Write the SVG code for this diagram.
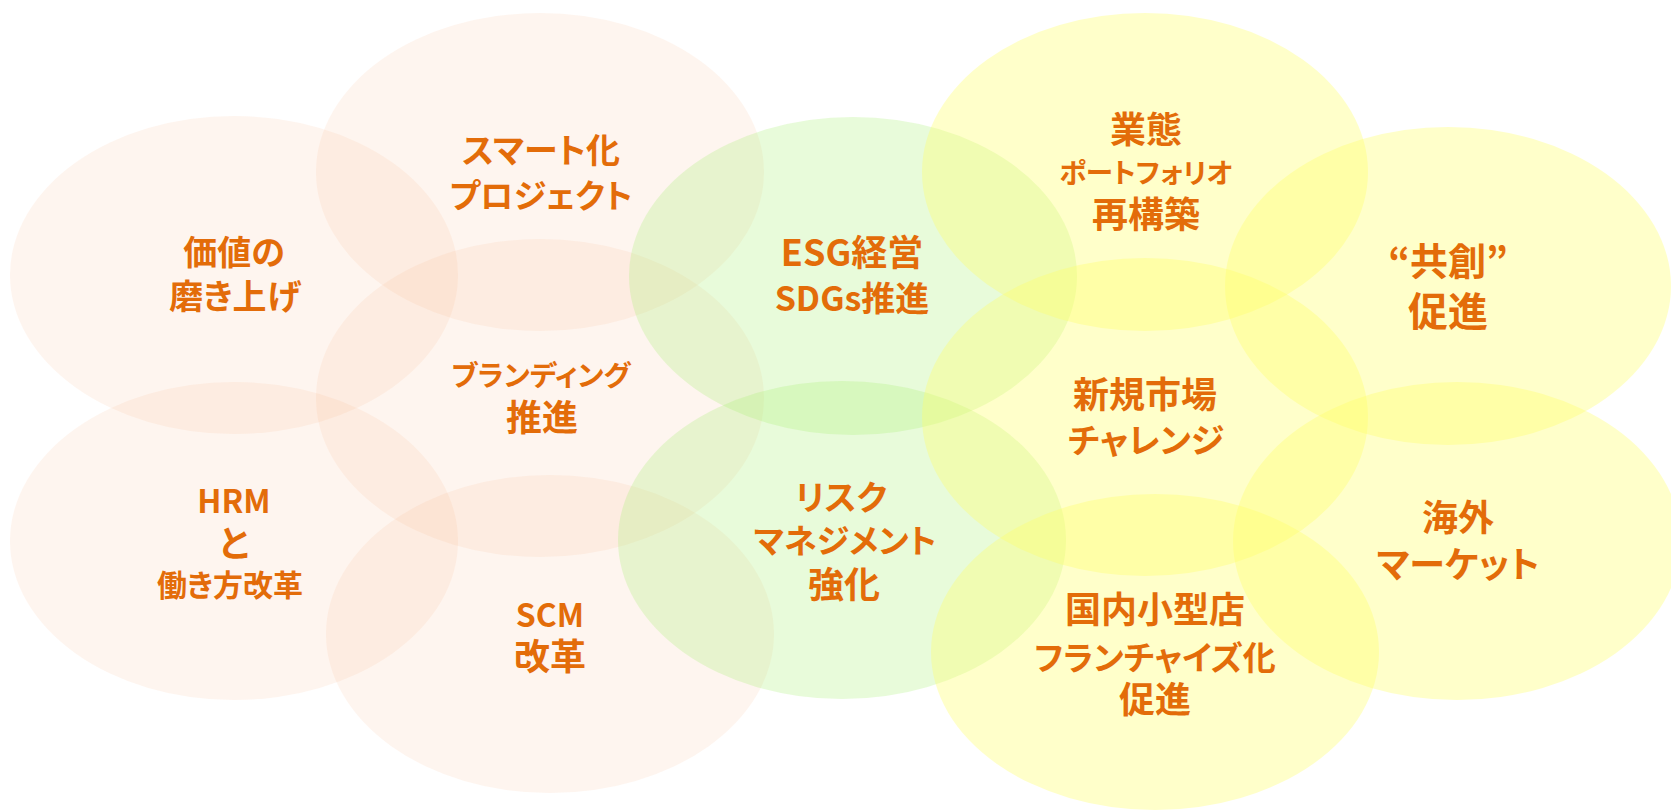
<svg xmlns="http://www.w3.org/2000/svg" width="1671" height="811" viewBox="0 0 1671 811">
<style>
.p{fill:#F4B183;fill-opacity:0.13}
.g{fill:#A8F070;fill-opacity:0.26}
.y{fill:#FFFF66;fill-opacity:0.35}
text{fill:#E36C09;font-family:"Noto Sans CJK JP","Noto Sans",sans-serif;font-weight:bold;text-anchor:middle;font-feature-settings:"palt"}
</style>
<rect width="1671" height="811" fill="#FFFFFF"/>
<g id="n-kachi"><ellipse class="p" cx="234" cy="275" rx="224" ry="159"/></g>
<g id="n-smart"><ellipse class="p" cx="540" cy="172" rx="224" ry="159"/></g>
<g id="n-brand"><ellipse class="p" cx="540" cy="398" rx="224" ry="159"/></g>
<g id="n-hrm"><ellipse class="p" cx="234" cy="541" rx="224" ry="159"/></g>
<g id="n-scm"><ellipse class="p" cx="550" cy="634" rx="224" ry="159"/></g>
<g id="n-esg"><ellipse class="g" cx="853" cy="276" rx="224" ry="159"/></g>
<g id="n-risk"><ellipse class="g" cx="842" cy="540" rx="224" ry="159"/></g>
<g id="n-gyotai"><ellipse class="y" cx="1145" cy="172" rx="223" ry="159"/></g>
<g id="n-kyoso"><ellipse class="y" cx="1448" cy="286" rx="223" ry="159"/></g>
<g id="n-shinki"><ellipse class="y" cx="1145" cy="417" rx="223" ry="159"/></g>
<g id="n-kaigai"><ellipse class="y" cx="1457" cy="541" rx="224" ry="159"/></g>
<g id="n-kokunai"><ellipse class="y" cx="1155" cy="652" rx="224" ry="158"/></g>
<g id="labels">
<text x="234" y="265" font-size="34">価値の</text>
<text x="235" y="309" font-size="34">磨き上げ</text>
<text x="541" y="163" font-size="34">スマート化</text>
<text x="541" y="208" font-size="33">プロジェクト</text>
<text x="541" y="386" font-size="28.5">ブランディング</text>
<text x="542" y="431" font-size="36">推進</text>
<text x="1146" y="143" font-size="36">業態</text>
<text x="1146" y="183" font-size="27.5">ポートフォリオ</text>
<text x="1146" y="228" font-size="36">再構築</text>
<text x="852" y="266" font-size="36">ESG経営</text>
<text x="852" y="311" font-size="34">SDGs推進</text>
<text x="1448" y="275" font-size="38">“共創”</text>
<text x="1448" y="326" font-size="40">促進</text>
<text x="1145" y="408" font-size="36">新規市場</text>
<text x="1146" y="453" font-size="34">チャレンジ</text>
<text x="841" y="510" font-size="34">リスク</text>
<text x="845" y="553" font-size="33">マネジメント</text>
<text x="844" y="598" font-size="36">強化</text>
<text x="1458" y="531" font-size="36">海外</text>
<text x="1458" y="578" font-size="36">マーケット</text>
<text x="1155" y="623" font-size="36">国内小型店</text>
<text x="1155" y="670" font-size="33">フランチャイズ化</text>
<text x="1155" y="713" font-size="36">促進</text>
<text x="234" y="513" font-size="32">HRM</text>
<text x="234" y="557" font-size="36">と</text>
<text x="230" y="596" font-size="30">働き方改革</text>
<text x="550" y="627" font-size="32">SCM</text>
<text x="550" y="670" font-size="36">改革</text>
</g>
</svg>
